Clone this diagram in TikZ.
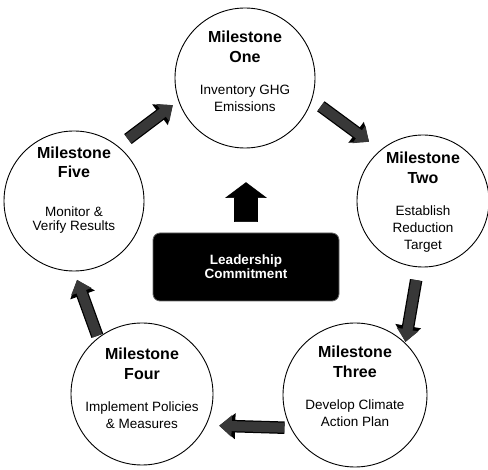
\documentclass[tikz,border=0pt]{standalone}
\usepackage{fontspec}
\setmainfont{Liberation Sans}
\usetikzlibrary{arrows.meta}
\newcommand\mtt{\fontsize{16}{17}\selectfont\bfseries}
\newcommand\mds{\fontsize{13.5}{17}\selectfont\mdseries}
\tikzset{
  ms/.style={circle, draw=black, line width=0.9pt, minimum size=#1, inner sep=0pt},
  mtext/.style={align=center, inner sep=0pt, font=\fontsize{13.5}{17}\selectfont},
  blk/.style={preaction={draw=black, line width=12.5pt, -{Triangle[width=25pt,length=16pt]}},
    line width=10pt, draw=black!78, -{Triangle[width=21pt,length=12.5pt]}},
  lead/.style={rounded corners=7pt, fill=black, draw=black!60, line width=0.8pt, text=white,
    minimum width=186pt, minimum height=68pt, align=center,
    font=\fontsize{13.5}{14}\selectfont\bfseries},
  uparrow/.style={fill=black, draw=black, line width=0.6pt}
}
\begin{document}
\begin{tikzpicture}[x=1pt,y=-1pt]
\useasboundingbox (0,0) rectangle (488,470);
\node[ms=140pt] (one) at (245,78) {};
\node[ms=132pt] (two) at (423,201) {};
\node[ms=144pt] (three) at (355,395) {};
\node[ms=142pt] (four) at (142,394) {};
\node[ms=140pt] (five) at (74,201) {};
\node[mtext, yshift=6.5pt] (onet) at (one) {\mtt Milestone\\[3pt]\mtt One\\[15pt]\mds Inventory GHG\\\mds Emissions};
\node[mtext, yshift=-1pt] (twot) at (two) {\mtt Milestone\\[3pt]\mtt Two\\[15pt]\mds Establish\\\mds Reduction\\\mds Target};
\node[mtext, yshift=9pt] (threet) at (three) {\mtt Milestone\\[3pt]\mtt Three\\[15pt]\mds Develop Climate\\\mds Action Plan};
\node[mtext, yshift=6pt] (fourt) at (four) {\mtt Milestone\\[3pt]\mtt Four\\[15pt]\mds Implement Policies\\\mds \& Measures};
\node[mtext, yshift=11pt] (fivet) at (five) {\mtt Milestone\\[2pt]\mtt Five\\[22pt]\mds Monitor \&\\[-3pt]\mds Verify Results};
\node[lead] (lead) at (246,267) {Leadership\\Commitment};
\draw[uparrow] ([shift={(-11.5,-11)}]lead.north) -- ++(0,-24) -- ++(-8.5,0)
  -- ([shift={(0,-50)}]lead.north) -- ([shift={(20,-35)}]lead.north) -- ++(-8.5,0)
  -- ([shift={(11.5,-11)}]lead.north) -- cycle;
\draw[blk, shorten <=12pt, shorten >=7pt] (five.51) -- (one.199);
\draw[blk, shorten <=11pt, shorten >=14pt] (one.-18) -- (two.130);
\draw[blk, shorten <=13pt, shorten >=1pt] (two.-94) -- (three.46);
\draw[blk, shorten <=6pt, shorten >=13pt] (three.207) -- (four.-26);
\draw[blk, shorten <=2pt, shorten >=9pt] (four.128) -- (five.-90);
\end{tikzpicture}
\end{document}
